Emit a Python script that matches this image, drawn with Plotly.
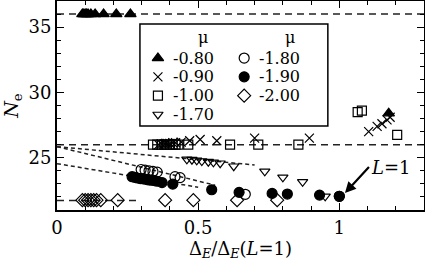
import plotly.graph_objects as go

# ---------------- data ----------------
mu_labels = ["-0.80", "-0.90", "-1.00", "-1.70", "-1.80", "-1.90", "-2.00"]

x_m080 = [0.09, 0.095, 0.10, 0.105, 0.11, 0.12, 0.135, 0.165, 0.21, 0.26, 1.175]
y_m080 = [36.0, 36.0, 36.0, 36.0, 36.0, 36.0, 36.0, 36.0, 36.0, 36.0, 28.4]

x_m090 = [0.36, 0.37, 0.38, 0.385, 0.39, 0.40, 0.41, 0.42, 0.44, 0.47, 0.507, 0.566,
          0.70, 0.894, 1.104, 1.134, 1.151, 1.169, 1.18]
y_m090 = [26.0, 26.05, 26.05, 26.1, 26.1, 26.1, 26.15, 26.15, 26.2, 26.3, 26.4, 26.3,
          26.5, 26.5, 27.0, 27.4, 27.6, 27.9, 28.1]

x_m100 = [0.34, 0.355, 0.37, 0.38, 0.39, 0.40, 0.41, 0.42, 0.43, 0.465, 0.613, 0.713,
          0.855, 1.065, 1.08, 1.205]
y_m100 = [26.0, 26.0, 26.0, 26.0, 26.0, 26.0, 26.0, 26.0, 26.0, 26.0, 26.0, 26.0,
          26.0, 28.5, 28.6, 26.75]

x_m170 = [0.46, 0.478, 0.495, 0.513, 0.536, 0.554, 0.578, 0.626, 0.736, 0.80, 0.87, 0.95]
y_m170 = [24.88, 24.85, 24.8, 24.75, 24.7, 24.65, 24.58, 24.35, 23.96, 23.5, 23.16, 22.05]

x_m180 = [0.298, 0.312, 0.326, 0.34, 0.355, 0.418, 0.436, 0.667, 1.0]
y_m180 = [24.1, 24.05, 24.0, 23.95, 23.9, 23.55, 23.48, 22.2, 22.05]

x_m190 = [0.266, 0.275, 0.285, 0.295, 0.305, 0.315, 0.325, 0.335, 0.345, 0.355, 0.372,
          0.41, 0.548, 0.645, 0.762, 0.816, 0.93, 1.0]
y_m190 = [23.55, 23.5, 23.45, 23.4, 23.38, 23.35, 23.3, 23.28, 23.25, 23.2, 23.1,
          22.98, 22.55, 22.35, 22.27, 22.22, 22.14, 22.05]

x_m200 = [0.09, 0.10, 0.11, 0.12, 0.13, 0.14, 0.155, 0.215, 0.383, 0.483, 0.638, 0.78]
y_m200 = [21.75] * 12

# reference levels (dashed) and fitted trends (dotted)
level_top_x, level_top_y = [0.0, 1.3], [36.0, 36.0]
level_mid_x, level_mid_y = [0.0, 1.3], [26.0, 26.0]
level_low_x, level_low_y = [0.0, 0.28], [21.72, 21.72]
fitA_x, fitA_y = [0.0, 0.70], [25.85, 24.45]
fitB_x, fitB_y = [0.0, 0.56], [25.85, 22.9]
fitC_x, fitC_y = [0.0, 0.50], [24.55, 22.74]

x_ticks = [0, 0.5, 1]
y_ticks = [25, 30, 35]

# ---------------- figure ----------------
FONT = "DejaVu Serif, Liberation Serif, serif"
fig = go.Figure()

dash_long = "7px,5px"
dash_short = "4px,3px"
for xs, ys in [(level_top_x, level_top_y), (level_mid_x, level_mid_y), (level_low_x, level_low_y)]:
    fig.add_trace(go.Scatter(x=xs, y=ys, mode="lines",
                             line=dict(color="#222", width=1.5, dash=dash_long),
                             showlegend=False, hoverinfo="skip"))
for xs, ys in [(fitA_x, fitA_y), (fitB_x, fitB_y), (fitC_x, fitC_y)]:
    fig.add_trace(go.Scatter(x=xs, y=ys, mode="lines",
                             line=dict(color="#222", width=1.5, dash=dash_short),
                             showlegend=False, hoverinfo="skip"))

series = [
    (x_m080, y_m080, "triangle-up", 10, "black", "black"),
    (x_m090, y_m090, "x-thin-open", 9, "black", "black"),
    (x_m100, y_m100, "square-open", 9, "black", "black"),
    (x_m170, y_m170, "triangle-down-open", 9, "black", "black"),
    (x_m180, y_m180, "circle-open", 10, "black", "black"),
    (x_m190, y_m190, "circle", 10, "black", "black"),
    (x_m200, y_m200, "diamond-open", 10, "black", "black"),
]
for (xs, ys, sym, sz, fc, lc), lab in zip(series, mu_labels):
    fig.add_trace(go.Scatter(x=xs, y=ys, mode="markers", name=lab,
                             marker=dict(symbol=sym, size=sz, color=fc,
                                         line=dict(color=lc, width=1.2)),
                             showlegend=False))

# ---------------- manual legend (overlay axes in paper-like units) ----------------
leg_col_x = [0.275, 0.275, 0.275, 0.275, 0.51, 0.51, 0.51]
leg_row_y = [0.727, 0.637, 0.547, 0.457, 0.727, 0.637, 0.547]
for i in range(len(series)):
    xs, ys, sym, sz, fc, lc = series[i]
    fig.add_trace(go.Scatter(x=[leg_col_x[i]], y=[leg_row_y[i]], mode="markers",
                             xaxis="x2", yaxis="y2",
                             marker=dict(symbol=sym, size=sz, color=fc,
                                         line=dict(color=lc, width=1.2)),
                             showlegend=False, hoverinfo="skip"))
    fig.add_annotation(x=leg_col_x[i] + 0.04, y=leg_row_y[i], xref="x2", yref="y2",
                       text=mu_labels[i], showarrow=False, xanchor="left", yanchor="middle",
                       borderpad=0, borderwidth=0,
                       font=dict(family=FONT, size=16, color="black"))
for hx in [0.398, 0.635]:
    fig.add_annotation(x=hx, y=0.825, xref="x2", yref="y2", text="μ", showarrow=False,
                       xanchor="center", yanchor="middle", borderpad=0, borderwidth=0,
                       font=dict(family=FONT, size=16, color="black"))
fig.add_shape(type="rect", xref="x2", yref="y2", x0=0.226, x1=0.738, y0=0.402, y1=0.89,
              line=dict(color="black", width=1.5), fillcolor="white", layer="below")

# L=1 arrow
fig.add_annotation(x=1.02, y=22.3, xref="x", yref="y", ax=24, ay=-26,
                   text="<i>L</i>=1", showarrow=True, arrowhead=2, arrowsize=1,
                   arrowwidth=2.2, arrowcolor="black", xanchor="left", yanchor="middle",
                   font=dict(family=FONT, size=18, color="black"))

axis_common = dict(showline=True, linecolor="black", linewidth=2, mirror="ticks",
                   ticks="inside", tickcolor="black", tickwidth=1.3, ticklen=7,
                   showgrid=False, zeroline=False, automargin=False,
                   tickfont=dict(family=FONT, size=18, color="black"))
fig.update_layout(
    width=425, height=266,
    margin=dict(l=57, r=1, t=1, b=56),
    paper_bgcolor="white", plot_bgcolor="white",
    font=dict(family=FONT, color="black"),
    xaxis=dict(range=[0, 1.3], tickvals=x_ticks, ticktext=["0", "0.5", "1"],
               minor=dict(dtick=0.1, tick0=0, ticks="inside", ticklen=4, tickcolor="black",
                          tickwidth=1.3),
               title=dict(text="Δ<sub><i>E</i></sub>/Δ<sub><i>E</i></sub>(<i>L</i>=1)",
                          font=dict(family=FONT, size=18), standoff=4),
               **axis_common),
    yaxis=dict(range=[21, 37], tickvals=y_ticks,
               minor=dict(dtick=1, tick0=21, ticks="inside", ticklen=4, tickcolor="black",
                          tickwidth=1.3),
               title=dict(text="<i>N</i><sub>e</sub>", font=dict(family=FONT, size=19),
                          standoff=6),
               **axis_common),
    xaxis2=dict(range=[0, 1], overlaying="x", visible=False, fixedrange=True),
    yaxis2=dict(range=[0, 1], overlaying="y", visible=False, fixedrange=True),
)

fig.write_html("out.html", config={"displayModeBar": False},
               post_script="document.body.style.margin='0';")
